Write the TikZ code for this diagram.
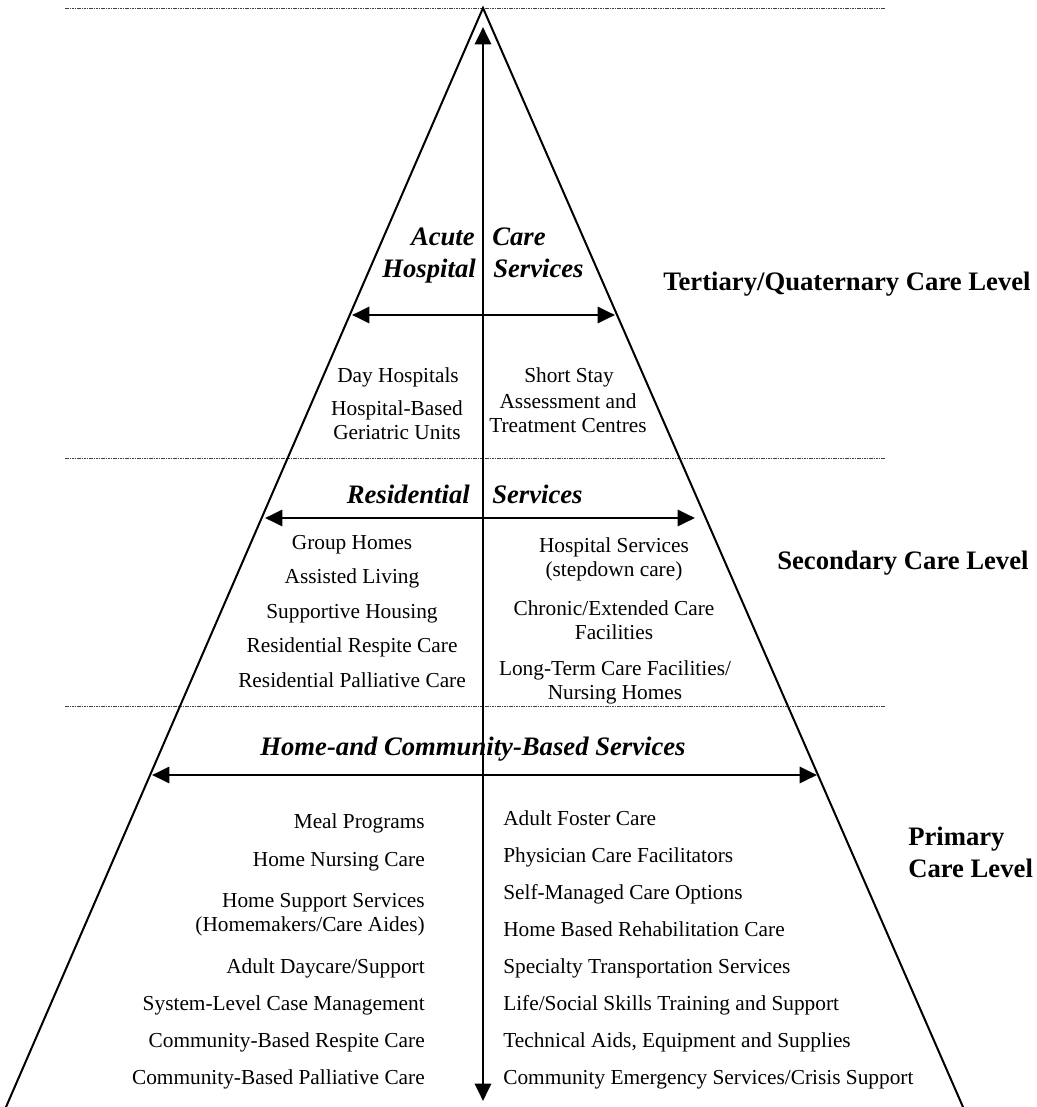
\documentclass[tikz,border=0pt]{standalone}
\usepackage{fontspec}
\setmainfont{Liberation Serif}
\usetikzlibrary{arrows.meta,positioning}

\begin{document}
\begin{tikzpicture}[x=0.75pt,y=-0.75pt,
    side/.style={line width=1.5pt},
    divider/.style={line width=0.7pt,black!75,dash pattern=on 1.2pt off 0.6pt},
    span/.style={line width=2.2pt,{Triangle[length=13pt,width=12pt]}-{Triangle[length=13pt,width=12pt]}},
    item/.style={font=\fontsize{16}{18}\selectfont,inner sep=0pt,align=center},
    head/.style={font=\fontsize{20}{24}\selectfont\bfseries\itshape,inner sep=0pt},
    level/.style={font=\fontsize{20}{24}\selectfont\bfseries,inner sep=0pt,align=left}]
  \useasboundingbox (0,0) rectangle (1036,1107);

  % pyramid and level lines
  \coordinate (apex) at (483,8);
  \coordinate (base_left) at (6,1107);
  \coordinate (base_right) at (963,1107);
  \coordinate (top_l) at (65,8);        \coordinate (top_r) at (885,8);
  \coordinate (mid_l) at (65,458);      \coordinate (mid_r) at (885,458);
  \coordinate (low_l) at (65,706);      \coordinate (low_r) at (885,706);
  \draw[divider] (top_l) -- (top_r);
  \draw[divider] (mid_l) -- (mid_r);
  \draw[divider] (low_l) -- (low_r);
  \draw[side] (base_left) -- (apex) -- (base_right);

  % arrows
  \coordinate (axis_top) at (483,27);
  \coordinate (axis_bot) at (483,1101);
  \coordinate (acute_l) at (352,315);   \coordinate (acute_r) at (615,315);
  \coordinate (res_l) at (265,518);     \coordinate (res_r) at (695,518);
  \coordinate (home_l) at (152,775);    \coordinate (home_r) at (817,775);
  \draw[span] (axis_bot) -- (axis_top);
  \draw[span] (acute_l) -- (acute_r);
  \draw[span] (res_l) -- (res_r);
  \draw[span] (home_l) -- (home_r);

  % tertiary / quaternary
  \node[head, anchor=base east] (acute) at (475,245) {Acute};
  \node[head, anchor=base west] (acute_care) at (492,245) {Care};
  \node[head, anchor=base east] (hospital) at (476,277) {Hospital};
  \node[head, anchor=base west] (acute_serv) at (493,277) {Services};
  \node[level, anchor=base west] (tertiary) at (663,290) {Tertiary/Quaternary Care Level};
  \node[item, anchor=base] (day_hosp) at (398,382) {Day Hospitals};
  \node[item, anchor=base] (geri_units) at (397,439) {Hospital-Based\\Geriatric Units};
  \node[item, anchor=base] (short_stay) at (569,382) {Short Stay};
  \node[item, anchor=base] (assess) at (568,432) {Assessment and\\Treatment Centres};

  % secondary
  \node[head, anchor=base east] (residential) at (470,503) {Residential};
  \node[head, anchor=base west] (res_serv) at (492,503) {Services};
  \node[level, anchor=base west] (secondary) at (777,569) {Secondary Care Level};
  \node[item, anchor=base] (group_homes) at (352,549) {Group Homes};
  \node[item, anchor=base] (assisted) at (352,583) {Assisted Living};
  \node[item, anchor=base] (supportive) at (352,618) {Supportive Housing};
  \node[item, anchor=base] (res_respite) at (352,652) {Residential Respite Care};
  \node[item, anchor=base] (res_palliative) at (352,687) {Residential Palliative Care};
  \node[item, anchor=base] (hosp_serv) at (614,576) {Hospital Services\\(stepdown care)};
  \node[item, anchor=base] (chronic) at (614,639) {Chronic/Extended Care\\Facilities};
  \node[item, anchor=base] (long_term) at (615,699) {Long-Term Care Facilities/\\Nursing Homes};

  % primary
  \node[head, anchor=base] (home_comm) at (473,755) {Home-and Community-Based Services};
  \node[level, anchor=base west] (primary) at (908,877) {Primary\\Care Level};
  \node[item, anchor=base east] (meal) at (425,828) {Meal Programs};
  \node[item, anchor=base east] (nursing) at (425,866) {Home Nursing Care};
  \node[item, anchor=base east, align=right] (support) at (425,931) {Home Support Services\\(Homemakers/Care Aides)};
  \node[item, anchor=base east] (daycare) at (425,973) {Adult Daycare/Support};
  \node[item, anchor=base east] (case_mgmt) at (425,1010) {System-Level Case Management};
  \node[item, anchor=base east] (comm_respite) at (425,1047) {Community-Based Respite Care};
  \node[item, anchor=base east] (comm_palliative) at (425,1084) {Community-Based Palliative Care};
  \node[item, anchor=base west] (foster) at (503,825) {Adult Foster Care};
  \node[item, anchor=base west] (physician) at (503,862) {Physician Care Facilitators};
  \node[item, anchor=base west] (self_managed) at (503,899) {Self-Managed Care Options};
  \node[item, anchor=base west] (rehab) at (503,936) {Home Based Rehabilitation Care};
  \node[item, anchor=base west] (transport) at (503,973) {Specialty Transportation Services};
  \node[item, anchor=base west] (life_skills) at (503,1010) {Life/Social Skills Training and Support};
  \node[item, anchor=base west] (tech_aids) at (503,1047) {Technical Aids, Equipment and Supplies};
  \node[item, anchor=base west] (emergency) at (503,1084) {Community Emergency Services/Crisis Support};
\end{tikzpicture}
\end{document}
